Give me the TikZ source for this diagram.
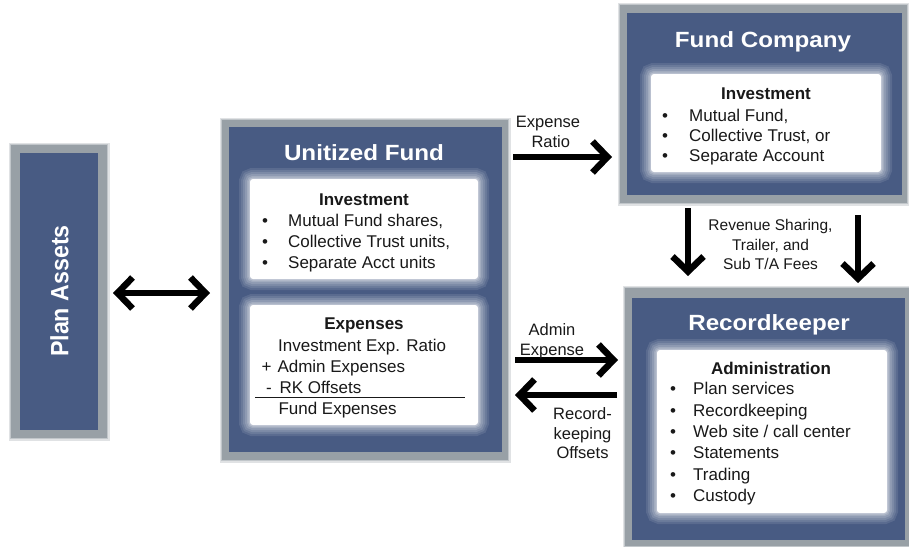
\documentclass[tikz,border=0pt]{standalone}
\usepackage{fontspec}
\setmainfont{Liberation Sans}
\usepackage{graphicx}
\usetikzlibrary{arrows.meta}
\definecolor{boxblue}{RGB}{72,91,131}
\definecolor{framegray}{RGB}{152,160,166}
\definecolor{txt}{RGB}{25,25,25}
\begin{document}
\begin{tikzpicture}[x=1pt,y=-1pt,
  pframe/.style={fill=framegray, inner sep=0pt, outer sep=0pt,
    preaction={draw=framegray!30, line width=5pt},
    preaction={draw=framegray!60, line width=2.5pt}},
  bluebox/.style={fill=boxblue, inner sep=0pt, outer sep=0pt},
  wbox/.style={fill=white, inner sep=0pt, outer sep=0pt, rounded corners=3pt,
    preaction={draw=white, opacity=.10, line width=22pt},
    preaction={draw=white, opacity=.10, line width=18pt},
    preaction={draw=white, opacity=.12, line width=14pt},
    preaction={draw=white, opacity=.14, line width=10pt},
    preaction={draw=white, opacity=.18, line width=6pt},
    preaction={draw=white, opacity=.25, line width=3pt}},
  ttl/.style={text=white, font=\fontsize{22}{26}\selectfont\bfseries, anchor=base, inner sep=0pt},
  bodytxt/.style={text=txt, font=\fontsize{17}{20}\selectfont, anchor=base west, inner sep=0pt},
  hd/.style={text=txt, font=\fontsize{17}{20}\selectfont\bfseries, anchor=base, inner sep=0pt},
  bul/.style={text=txt, font=\fontsize{17}{20}\selectfont, anchor=base, inner sep=0pt},
  arrlab/.style={text=txt, font=\fontsize{16.5}{20}\selectfont, anchor=base, inner sep=0pt},
  revlab/.style={text=txt, font=\fontsize{15.5}{19}\selectfont, anchor=base, inner sep=0pt},
  arr/.style={line width=6.5pt, -{Straight Barb[length=15pt,width=31pt]}},
  dblarr/.style={line width=6.5pt, {Straight Barb[length=15pt,width=31pt]}-{Straight Barb[length=15pt,width=31pt]}},
]
\useasboundingbox (0,0) rectangle (909,546);
\fill[white] (0,0) rectangle (909,546);

% ---------- Plan Assets ----------
\node[pframe, minimum width=96pt, minimum height=293pt] (pa-frame) at (59,291.5) {};
\node[bluebox, minimum width=78pt, minimum height=277pt] (pa) at (59,291.5) {};
\node[text=white, font=\fontsize{25}{28}\selectfont\bfseries, rotate=90, inner sep=0pt] (pa-title) at (59.5,291) {\scalebox{0.93}[1]{Plan Assets}};

% ---------- Unitized Fund ----------
\node[pframe, minimum width=286pt, minimum height=340pt] (uf-frame) at (365,290) {};
\node[bluebox, minimum width=273pt, minimum height=325pt] (uf) at (365.5,289.5) {};
\node[ttl] (uf-title) at (364,160.5) {\scalebox{1.1}[1]{Unitized Fund}};
\node[wbox, minimum width=228pt, minimum height=100pt] (uf-inv) at (364,229) {};
\node[hd] (uf-inv-h) at (364,205) {Investment};
\node[bul] (uf-b1) at (265,226) {•};
\node[bul] (uf-b2) at (265,247) {•};
\node[bul] (uf-b3) at (265,268) {•};
\node[bodytxt] (uf-i1) at (288,226) {Mutual Fund shares,};
\node[bodytxt] (uf-i2) at (288,247) {Collective Trust units,};
\node[bodytxt] (uf-i3) at (288,268) {Separate Acct units};
\node[wbox, minimum width=228pt, minimum height=120pt] (uf-exp) at (364,365) {};
\node[hd] (uf-exp-h) at (364,329) {Expenses};
\node[bodytxt] (uf-e1) at (278,351) {Investment Exp. Ratio};
\node[bul] (uf-plus) at (266.7,372) {+};
\node[bodytxt] (uf-e2) at (277.3,372) {Admin Expenses};
\node[bul] (uf-minus) at (269,393) {-};
\node[bodytxt] (uf-e3) at (279.3,393) {RK Offsets};
\draw[line width=1pt, txt] (255,397) -- (465,397);
\node[bodytxt] (uf-e4) at (278.3,414) {Fund Expenses};

% ---------- Fund Company ----------
\node[pframe, minimum width=287pt, minimum height=198pt] (fc-frame) at (763.5,104) {};
\node[bluebox, minimum width=275pt, minimum height=182pt] (fc) at (764.5,104) {};
\node[ttl] (fc-title) at (763,47) {\scalebox{1.1}[1]{Fund Company}};
\node[wbox, minimum width=230pt, minimum height=98pt] (fc-inv) at (766,123) {};
\node[hd] (fc-inv-h) at (766,99) {Investment};
\node[bul] (fc-b1) at (665,121) {•};
\node[bul] (fc-b2) at (665,141) {•};
\node[bul] (fc-b3) at (665,161) {•};
\node[bodytxt] (fc-i1) at (689,121) {Mutual Fund,};
\node[bodytxt] (fc-i2) at (689,141) {Collective Trust, or};
\node[bodytxt] (fc-i3) at (689,161) {Separate Account};

% ---------- Recordkeeper ----------
\node[pframe, minimum width=284pt, minimum height=258pt] (rk-frame) at (767,417) {};
\node[bluebox, minimum width=273pt, minimum height=242pt] (rk) at (768.5,419) {};
\node[ttl] (rk-title) at (769,330.7) {\scalebox{1.1}[1]{Recordkeeper}};
\node[wbox, minimum width=230pt, minimum height=163pt] (rk-adm) at (772,431.5) {};
\node[hd] (rk-adm-h) at (771,374) {Administration};
\node[bul] (rk-b1) at (673,394.3) {•};
\node[bul] (rk-b2) at (673,416) {•};
\node[bul] (rk-b3) at (673,437.3) {•};
\node[bul] (rk-b4) at (673,458.3) {•};
\node[bul] (rk-b5) at (673,480) {•};
\node[bul] (rk-b6) at (673,501.7) {•};
\node[bodytxt] (rk-a1) at (693,394.3) {Plan services};
\node[bodytxt] (rk-a2) at (693,416) {Recordkeeping};
\node[bodytxt] (rk-a3) at (693,437.3) {Web site / call center};
\node[bodytxt] (rk-a4) at (693,458.3) {Statements};
\node[bodytxt] (rk-a5) at (693,480) {Trading};
\node[bodytxt] (rk-a6) at (693,501.7) {Custody};

% ---------- Arrows ----------
\draw[dblarr, shorten <=6pt, shorten >=12pt] (pa-frame.east |- 0,293) -- (uf-frame.west |- 0,293);
\draw[arr, shorten <=5pt, shorten >=8pt] (uf-frame.east |- 0,157) -- (fc-frame.west |- 0,157);
\draw[arr, shorten <=7pt, shorten >=7pt] (uf-frame.east |- 0,360) -- (rk-frame.west |- 0,360);
\draw[arr, shorten <=8pt, shorten >=7pt] (rk-frame.west |- 0,395) -- (uf-frame.east |- 0,395);
\draw[arr, shorten <=5pt, shorten >=12pt] (fc-frame.south -| 688,0) -- (rk-frame.north -| 688,0);
\draw[arr, shorten <=12pt, shorten >=5pt] (fc-frame.south -| 858,0) -- (rk-frame.north -| 858,0);

% ---------- Arrow labels ----------
\node[arrlab] (l-er1) at (548,127.3) {Expense};
\node[arrlab] (l-er2) at (550.8,147.3) {Ratio};
\node[arrlab] (l-ad1) at (552,335) {Admin};
\node[arrlab] (l-ad2) at (552,355) {Expense};
\node[arrlab] (l-rk1) at (582.5,419.3) {Record-};
\node[arrlab] (l-rk2) at (582.5,439.3) {keeping};
\node[arrlab] (l-rk3) at (582.5,458.3) {Offsets};
\node[revlab] (l-rv1) at (770.5,230.7) {Revenue Sharing,};
\node[revlab] (l-rv2) at (770.5,250) {Trailer, and};
\node[revlab] (l-rv3) at (770.5,269.3) {Sub T/A Fees};
\end{tikzpicture}
\end{document}
